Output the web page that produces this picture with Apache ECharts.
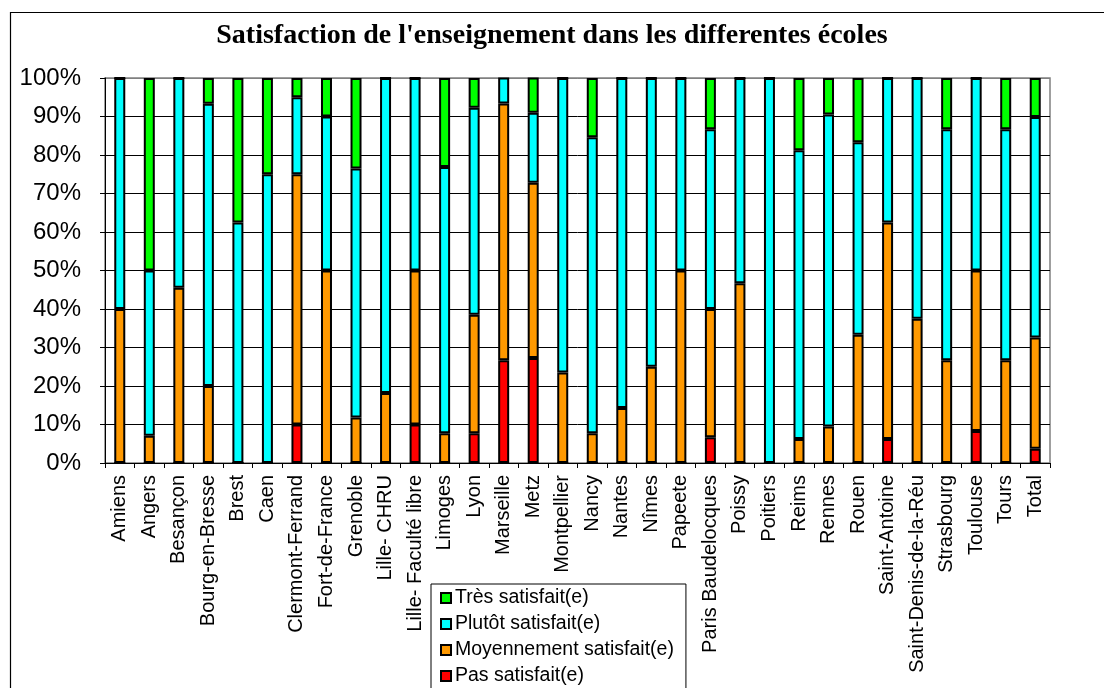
<!DOCTYPE html>
<html>
<head>
<meta charset="utf-8">
<script src="https://cdn.jsdelivr.net/npm/echarts@6/dist/echarts.min.js"></script>
<style>
  html, body { margin: 0; padding: 0; background: #fff; }
  #chart { width: 1104px; height: 688px; }
</style>
</head>
<body>
<div id="chart"></div>
<script>
// Schools (last entry is the overall total)
const categories = ['Amiens', 'Angers', 'Besançon', 'Bourg-en-Bresse', 'Brest', 'Caen',
  'Clermont-Ferrand', 'Fort-de-France', 'Grenoble', 'Lille- CHRU', 'Lille- Faculté libre',
  'Limoges', 'Lyon', 'Marseille', 'Metz', 'Montpellier', 'Nancy', 'Nantes', 'Nîmes',
  'Papeete', 'Paris Baudelocques', 'Poissy', 'Poitiers', 'Reims', 'Rennes', 'Rouen',
  'Saint-Antoine', 'Saint-Denis-de-la-Réu', 'Strasbourg', 'Toulouse', 'Tours', 'Total'];

// Share of answers per school, in percent
const pasSatisfait = [0, 0, 0, 0, 0, 0, 10, 0, 0, 0, 10, 0, 7.7, 26.7, 27.3, 0, 0, 0, 0,
  0, 6.7, 0, 0, 0, 0, 0, 6.25, 0, 0, 8.3, 0, 3.7];
const moyennement = [40, 7.1, 45.5, 20, 0, 0, 65, 50, 11.8, 18.2, 40, 7.7, 30.8, 66.7, 45.5,
  23.5, 7.7, 14.3, 25, 50, 33.3, 46.7, 0, 6.25, 9.5, 33.3, 56.25, 37.5, 26.7, 41.7, 26.7, 28.9];
const plutot = [60, 42.9, 54.5, 73.3, 62.5, 75, 20, 40, 64.7, 81.8, 50, 69.2, 53.8, 6.7, 18.2,
  76.5, 76.9, 85.7, 75, 50, 46.7, 53.3, 100, 75, 81, 50, 37.5, 62.5, 60, 50, 60, 57.3];
const tres = [0, 50, 0, 6.7, 37.5, 25, 5, 10, 23.5, 0, 0, 23.1, 7.7, 0, 9.1, 0, 15.4, 0, 0,
  0, 13.3, 0, 0, 18.75, 9.5, 16.7, 0, 0, 13.3, 0, 13.3, 10.1];

const yTicks = [0, 10, 20, 30, 40, 50, 60, 70, 80, 90, 100];

const SANS = '"Liberation Sans", Arial, sans-serif';
const SERIF = '"Liberation Serif", "Times New Roman", serif';

function barSeries(name, data, color) {
  return {
    name: name,
    type: 'bar',
    stack: 'total',
    data: data,
    barWidth: 11,
    itemStyle: { color: color, borderColor: '#000', borderWidth: 2 },
    emphasis: { disabled: true }
  };
}

const chart = echarts.init(document.getElementById('chart'), null, { renderer: 'canvas' });

chart.setOption({
  animation: false,
  backgroundColor: '#fff',
  title: {
    text: "Satisfaction de l'enseignement dans les differentes écoles",
    left: 'center',
    top: 17,
    textStyle: { fontFamily: SERIF, fontWeight: 'bold', fontSize: 28, color: '#000' }
  },
  graphic: [{
    type: 'rect',
    shape: { x: 10.5, y: 12.5, width: 1200, height: 800 },
    style: { fill: 'none', stroke: '#000', lineWidth: 1.2 },
    silent: true,
    z: 0
  }],
  grid: {
    left: 105, right: 54, top: 78, bottom: 225,
    show: true, borderColor: '#808080', borderWidth: 1.5, backgroundColor: 'transparent'
  },
  legend: {
    orient: 'vertical',
    left: 431,
    top: 584,
    height: 300,
    padding: [4, 12, 6, 9],
    backgroundColor: '#fff',
    borderColor: '#000',
    borderWidth: 1,
    itemWidth: 10,
    itemHeight: 10,
    itemGap: 6,
    icon: 'rect',
    textStyle: { fontFamily: SANS, fontSize: 19.5, color: '#000', padding: [0, 0, 0, -1] },
    data: ['Très satisfait(e)', 'Plutôt satisfait(e)', 'Moyennement satisfait(e)', 'Pas satisfait(e)']
  },
  xAxis: {
    type: 'category',
    data: categories,
    axisLine: { lineStyle: { color: '#000', width: 1 } },
    axisTick: { show: true, length: 5, lineStyle: { color: '#000' } },
    axisLabel: {
      rotate: 90, interval: 0, margin: 12,
      fontFamily: SANS, fontSize: 20, color: '#000'
    }
  },
  yAxis: {
    type: 'value',
    min: 0, max: 100, interval: 10,
    axisLine: { show: true, lineStyle: { color: '#000', width: 1 } },
    axisTick: { show: true, length: 5, lineStyle: { color: '#000' } },
    axisLabel: {
      margin: 24, fontFamily: SANS, fontSize: 24, color: '#000',
      formatter: v => (yTicks.indexOf(v) >= 0 ? v + '%' : '')
    },
    splitLine: {
      show: true,
      lineStyle: {
        color: ['#000', '#000', '#000', '#000', '#000', '#000', '#000', '#000', '#000', '#000', '#808080'],
        width: 1
      }
    }
  },
  series: [
    barSeries('Pas satisfait(e)', pasSatisfait, '#FF0000'),
    barSeries('Moyennement satisfait(e)', moyennement, '#FF9900'),
    barSeries('Plutôt satisfait(e)', plutot, '#00FFFF'),
    barSeries('Très satisfait(e)', tres, '#00FF00')
  ]
});
</script>
</body>
</html>
